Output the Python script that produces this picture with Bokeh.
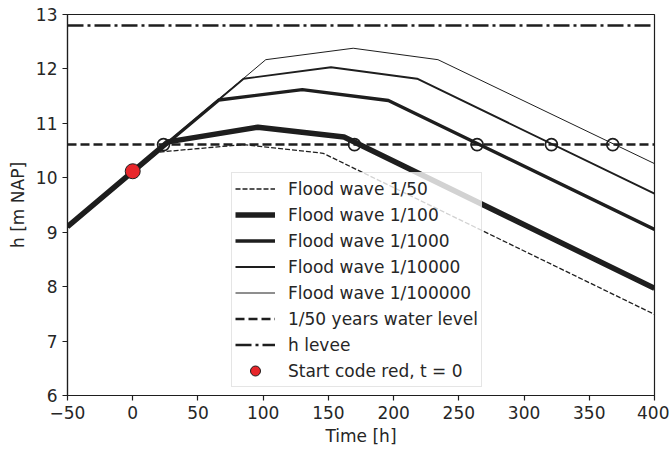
from bokeh.plotting import figure
from bokeh.models import FixedTicker, Legend, LegendItem, Range1d
from bokeh.embed import file_html
from bokeh.resources import INLINE

# ---- data ----
w50_t = [-50, 19, 85, 146, 400]
w50_h = [9.10, 10.47, 10.61, 10.45, 7.49]
w100_t = [-50, 27, 96, 162, 400]
w100_h = [9.10, 10.66, 10.93, 10.75, 7.97]
w1000_t = [-50, 66, 130, 196, 400]
w1000_h = [9.10, 11.43, 11.62, 11.42, 9.05]
w10000_t = [-50, 85, 152, 218, 400]
w10000_h = [9.10, 11.82, 12.03, 11.82, 9.71]
w100000_t = [-50, 102, 169, 234, 400]
w100000_h = [9.10, 12.17, 12.38, 12.17, 10.26]
level_50 = 10.61
h_levee = 12.80
cross_t = [23.6, 170, 264, 321, 368]
start_t = [0]
start_h = [10.12]
x_ticks = [-50, 0, 50, 100, 150, 200, 250, 300, 350, 400]
y_ticks = [6, 7, 8, 9, 10, 11, 12, 13]

FONT = "DejaVu Sans"
INK = "#1e1e1e"
TXT = "#262626"

p = figure(width=669, height=453, output_backend="svg", toolbar_location=None,
           x_range=Range1d(-50, 400), y_range=Range1d(6, 13),
           min_border_left=67, min_border_right=15, min_border_top=14, min_border_bottom=58)

p.xgrid.visible = False
p.ygrid.visible = False
p.outline_line_color = INK
p.outline_line_width = 1.2
p.background_fill_color = "white"
p.border_fill_color = "white"

for ax in (p.xaxis[0], p.yaxis[0]):
    ax.axis_line_color = INK
    ax.axis_line_width = 1.2
    ax.major_tick_line_color = INK
    ax.major_tick_line_width = 1.2
    ax.major_tick_out = 5
    ax.major_tick_in = 0
    ax.minor_tick_line_color = None
    ax.major_label_text_font = FONT
    ax.major_label_text_font_size = "17px"
    ax.major_label_text_color = TXT
    ax.axis_label_text_font = FONT
    ax.axis_label_text_font_size = "17px"
    ax.axis_label_text_font_style = "normal"
    ax.axis_label_text_color = TXT
    ax.major_label_standoff = 5

p.xaxis.ticker = FixedTicker(ticks=x_ticks)
p.yaxis.ticker = FixedTicker(ticks=y_ticks)
p.xaxis.major_label_overrides = {-50: "\u221250"}
p.xaxis.axis_label = "Time [h]"
p.yaxis.axis_label = "h [m NAP]"
p.xaxis.axis_label_standoff = 4
p.yaxis.axis_label_standoff = 5

r50 = p.line(w50_t, w50_h, line_color=INK, line_width=1.3, line_dash="5 2")
r100 = p.line(w100_t, w100_h, line_color=INK, line_width=5.5)
r1000 = p.line(w1000_t, w1000_h, line_color=INK, line_width=3.4)
r10000 = p.line(w10000_t, w10000_h, line_color=INK, line_width=1.9)
r100000 = p.line(w100000_t, w100000_h, line_color=INK, line_width=1.0)

rlev = p.line([-50, 400], [level_50, level_50], line_color=INK, line_width=2.5, line_dash="9 4")
rlevee = p.line([-50, 400], [h_levee, h_levee], line_color=INK, line_width=2.5, line_dash="16 4 3 4")

p.scatter(cross_t, [level_50] * len(cross_t), size=12, fill_color=None,
          line_color=INK, line_width=1.6)
rstart = p.scatter(start_t, start_h, size=15, fill_color="#e8262b", line_color=INK, line_width=1)

legend = Legend(items=[
    LegendItem(label="Flood wave 1/50", renderers=[r50]),
    LegendItem(label="Flood wave 1/100", renderers=[r100]),
    LegendItem(label="Flood wave 1/1000", renderers=[r1000]),
    LegendItem(label="Flood wave 1/10000", renderers=[r10000]),
    LegendItem(label="Flood wave 1/100000", renderers=[r100000]),
    LegendItem(label="1/50 years water level", renderers=[rlev]),
    LegendItem(label="h levee", renderers=[rlevee]),
    LegendItem(label="Start code red, t = 0", renderers=[rstart]),
], location=(164, 8))
legend.label_text_font = FONT
legend.label_text_font_size = "17px"
legend.label_text_color = TXT
legend.glyph_width = 40
legend.glyph_height = 25
legend.label_height = 25
legend.label_standoff = 13
legend.spacing = 1
legend.padding = 3
legend.margin = 0
legend.border_line_color = "#cccccc"
legend.border_line_width = 1
legend.background_fill_color = "white"
legend.background_fill_alpha = 0.8
p.add_layout(legend, "center")

open("out.html", "w").write(file_html(p, INLINE))
